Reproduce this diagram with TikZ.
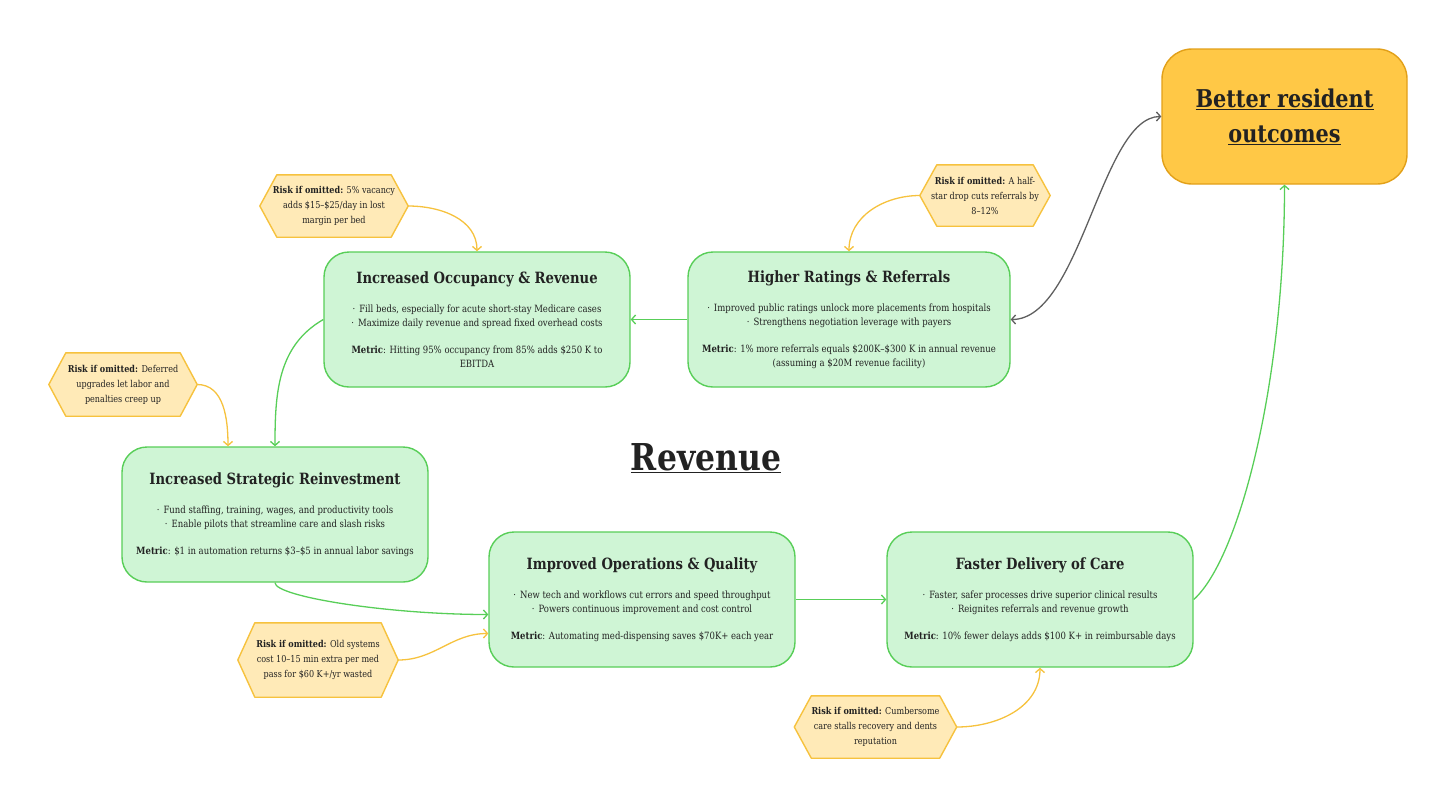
\documentclass[tikz,border=0pt]{standalone}
\usepackage{fontspec}
\setmainfont{DejaVu Serif}[FakeStretch=0.85]
\usetikzlibrary{arrows.meta,backgrounds,calc}
\definecolor{ink}{RGB}{34,34,34}
\definecolor{cardfill}{RGB}{207,245,213}
\definecolor{cardline}{RGB}{88,206,88}
\definecolor{riskfill}{RGB}{255,234,183}
\definecolor{riskline}{RGB}{246,194,62}
\definecolor{goalfill}{RGB}{255,200,70}
\definecolor{goalline}{RGB}{226,160,24}
\definecolor{linkgray}{RGB}{95,95,95}
\newcommand\cardtitle{\fontsize{15.5}{18}\selectfont\bfseries}
\newcommand\bul{·\hspace{4pt}}
\tikzset{
  card/.style={draw=cardline, fill=cardfill, line width=1.4pt, rounded corners=25pt,
    minimum width=306pt, minimum height=135pt, align=center, inner sep=0pt,
    text=ink, font=\fontsize{10}{14}\selectfont},
  risk/.style={align=center, inner sep=0pt, text=ink, font=\fontsize{9.5}{15}\selectfont},
  riskshape/.style={draw=riskline, fill=riskfill, line width=1.4pt, line join=round},
  goal/.style={draw=goalline, fill=goalfill, line width=1.4pt, rounded corners=30pt,
    minimum width=245pt, minimum height=135pt, align=center, inner sep=0pt,
    text=ink, font=\fontsize{24.5}{35}\selectfont\bfseries},
  heading/.style={text=ink, font=\fontsize{37}{40}\selectfont\bfseries, inner sep=0pt},
  flow/.style={draw=cardline, line width=1.3pt, -{Straight Barb[length=4pt,width=9pt]}},
  riskflow/.style={draw=riskline, line width=1.3pt, -{Straight Barb[length=4pt,width=9pt]}},
  twoway/.style={draw=linkgray, line width=1.3pt,
    {Straight Barb[length=4pt,width=9pt]}-{Straight Barb[length=4pt,width=9pt]}},
}
\newcommand\riskhex[5]{%
  \node[risk, minimum width=#3, minimum height=#4] (#1) at (#2) {#5};
  \begin{pgfonlayer}{background}
    \path[riskshape] (#1.west) -- ([xshift=17pt]#1.north west) -- ([xshift=-17pt]#1.north east)
      -- (#1.east) -- ([xshift=-17pt]#1.south east) -- ([xshift=17pt]#1.south west) -- cycle;
  \end{pgfonlayer}}
\begin{document}
\begin{tikzpicture}[x=1pt,y=-1pt]
\useasboundingbox (0,0) rectangle (1456,807);

% cards
\node[card] (occ) at (477,319.5) {{\cardtitle Increased Occupancy \& Revenue}\\[15pt]
  \bul Fill beds, especially for acute short-stay Medicare cases\\
  \bul Maximize daily revenue and spread fixed overhead costs\\[13pt]
  \textbf{Metric}: Hitting 95\% occupancy from 85\% adds \$250 K to\\
  EBITDA};
\node[card, minimum width=322pt] (rat) at (849,319.5) {{\cardtitle Higher Ratings \& Referrals}\\[15pt]
  \bul Improved public ratings unlock more placements from hospitals\\
  \bul Strengthens negotiation leverage with payers\\[13pt]
  \textbf{Metric}: 1\% more referrals equals \$200K–\$300 K in annual revenue\\
  (assuming a \$20M revenue facility)};
\node[card] (rein) at (275,514.5) {{\cardtitle Increased Strategic Reinvestment}\\[15pt]
  \bul Fund staffing, training, wages, and productivity tools\\
  \bul Enable pilots that streamline care and slash risks\\[13pt]
  \textbf{Metric}: \$1 in automation returns \$3–\$5 in annual labor savings};
\node[card] (ops) at (642,599.5) {{\cardtitle Improved Operations \& Quality}\\[15pt]
  \bul New tech and workflows cut errors and speed throughput\\
  \bul Powers continuous improvement and cost control\\[13pt]
  \textbf{Metric}: Automating med-dispensing saves \$70K+ each year};
\node[card] (fast) at (1040,599.5) {{\cardtitle Faster Delivery of Care}\\[15pt]
  \bul Faster, safer processes drive superior clinical results\\
  \bul Reignites referrals and revenue growth\\[13pt]
  \textbf{Metric}: 10\% fewer delays adds \$100 K+ in reimbursable days};

% goal
\node[goal] (goal) at (1284.5,116.5) {\underline{Better resident}\\\underline{outcomes}};

% heading
\node[heading] (rev) at (706,458) {\underline{Revenue}};

% risks
\riskhex{r1}{334,206}{148pt}{62pt}{\textbf{Risk if omitted:} 5\% vacancy\\adds \$15–\$25/day in lost\\margin per bed}
\riskhex{r2}{985,195.5}{130pt}{61pt}{\textbf{Risk if omitted:} A half-\\star drop cuts referrals by\\8–12\%}
\riskhex{r3}{123,384.5}{148pt}{63pt}{\textbf{Risk if omitted:} Deferred\\upgrades let labor and\\penalties creep up}
\riskhex{r4}{318,660}{160pt}{74pt}{\textbf{Risk if omitted:} Old systems\\cost 10–15 min extra per med\\pass for \$60 K+/yr wasted}
\riskhex{r5}{875.5,727}{162pt}{62pt}{\textbf{Risk if omitted:} Cumbersome\\care stalls recovery and dents\\reputation}

% flow connectors
\draw[flow] (rat.west) -- (occ.east);
\draw[flow] (occ.west) to[out=210,in=90] (rein.north);
\draw[flow] (rein.south) .. controls +(0,14) and +(-100,0) .. ([yshift=-15pt]ops.west);
\draw[flow] (ops.east) -- (fast.west);
\draw[flow] (fast.east) .. controls +(45,-40) and +(0,200) .. (goal.south);
\draw[twoway] (rat.east) .. controls +(70,0) and +(-60,0) .. (goal.west);

% risk connectors
\draw[riskflow] (r1.east) to[out=0,in=90] (occ.north);
\draw[riskflow] (r2.west) to[out=180,in=90] (rat.north);
\draw[riskflow] (r3.east) to[out=0,in=90] ([xshift=-47pt]rein.north);
\draw[riskflow] (r4.east) to[out=0,in=180] ([yshift=-34pt]ops.west);
\draw[riskflow] (r5.east) to[out=0,in=-90] (fast.south);
\end{tikzpicture}
\end{document}
